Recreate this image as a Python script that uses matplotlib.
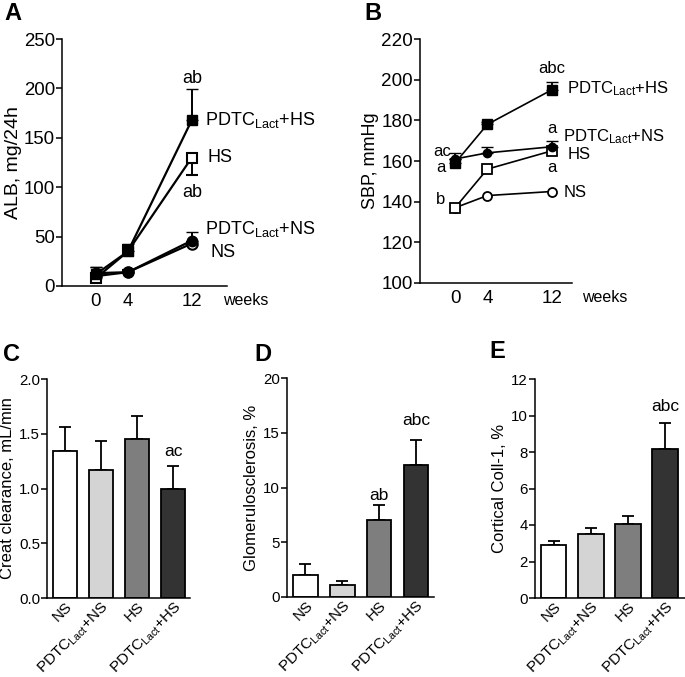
import matplotlib
matplotlib.use("Agg")
import matplotlib.pyplot as plt

plt.rcParams["font.family"] = ["Liberation Sans", "DejaVu Sans"]
plt.rcParams["mathtext.fontset"] = "custom"
plt.rcParams["mathtext.rm"] = "Liberation Sans"
plt.rcParams["mathtext.it"] = "Liberation Sans:italic"
plt.rcParams["axes.linewidth"] = 1.1

W, H = 685, 677
LACT_HS = r"PDTC$_{\mathregular{Lact}}$+HS"
LACT_NS = r"PDTC$_{\mathregular{Lact}}$+NS"

# time course data
weeks = [0, 4, 12]

alb_pdtc_hs = [12, 35, 168]
alb_pdtc_hs_err = [7, 8, 31]
alb_hs = [8, 35, 130]
alb_hs_err_lo = [0, 0, 18]
alb_hs_err_up = [2, 7, 0]
alb_pdtc_ns = [13, 14, 46]
alb_pdtc_ns_err = [6, 2, 9]
alb_ns = [10, 14, 43]
alb_ns_err = [2, 2, 2]

sbp_pdtc_hs = [159, 178, 195]
sbp_pdtc_hs_err = [2, 1, 4]
sbp_pdtc_ns = [161, 164, 167]
sbp_pdtc_ns_err = [3, 3, 3]
sbp_hs = [137, 156, 165]
sbp_ns = [137, 143, 145]

# bar data
groups = ["NS", LACT_NS, "HS", LACT_HS]
bar_colors = ["white", "#d4d4d4", "#7e7e7e", "#333333"]

creat = [1.34, 1.17, 1.45, 1.00]
creat_err = [0.22, 0.26, 0.21, 0.21]
glom = [2.0, 1.1, 7.0, 12.1]
glom_err = [1.0, 0.4, 1.4, 2.2]
coll = [2.9, 3.5, 4.05, 8.15]
coll_err = [0.25, 0.33, 0.42, 1.45]


def add_ax(fig, x0, x1, y0, y1):
    # pixel box -> figure fraction
    return fig.add_axes([x0 / W, 1 - y1 / H, (x1 - x0) / W, (y1 - y0) / H])


def style(ax, size):
    ax.spines["top"].set_visible(False)
    ax.spines["right"].set_visible(False)
    ax.tick_params(direction="out", length=4, width=1.1, labelsize=size, pad=1)


fig = plt.figure(figsize=(W / 100, H / 100), dpi=100)

# ---- A ----
ax = add_ax(fig, 62, 227, 39, 286)
style(ax, 13.4)
lw, ms = 1.6, 7.5
ax.errorbar(weeks, alb_ns, yerr=[[0] * 3, alb_ns_err], color="black", lw=lw, marker="o",
            ms=ms, mfc="white", mec="black", mew=1.5, capsize=4, elinewidth=1.4)
ax.errorbar(weeks, alb_pdtc_ns, yerr=[[0] * 3, alb_pdtc_ns_err], color="black", lw=lw,
            marker="o", ms=ms, capsize=4, elinewidth=1.4)
ax.errorbar(weeks, alb_hs, yerr=[alb_hs_err_lo, alb_hs_err_up], color="black", lw=lw,
            marker="s", ms=ms, mfc="white", mec="black", mew=1.5, capsize=4, elinewidth=1.4)
ax.errorbar(weeks, alb_pdtc_hs, yerr=[[0] * 3, alb_pdtc_hs_err], color="black", lw=lw,
            marker="s", ms=ms, capsize=4, elinewidth=1.4)
ax.set_xlim(-4.25, 16.4)
ax.set_ylim(0, 250)
ax.set_xticks(weeks)
ax.set_yticks([0, 50, 100, 150, 200, 250])
ax.tick_params(axis="x", length=0, pad=5)
ax.set_ylabel("ALB, mg/24h", fontsize=14, labelpad=1)
kw = dict(fontsize=13, va="center", clip_on=False)
ax.text(13.6, 168, LACT_HS, **kw)
ax.text(14.0, 130, "HS", **kw)
ax.text(13.6, 58, LACT_NS, **kw)
ax.text(14.3, 34, "NS", **kw)
ax.text(12, 210, "ab", ha="center", **kw)
ax.text(12, 95, "ab", ha="center", **kw)
ax.text(15.9, -14.5, "weeks", fontsize=11.5, va="center", clip_on=False)

# ---- B ----
ax = add_ax(fig, 420, 572, 39, 283)
style(ax, 13.6)
lw, ms = 1.2, 6.5
kw = dict(fontsize=12, va="center", clip_on=False)
ax.plot(weeks, sbp_ns, color="black", lw=lw, marker="o", ms=ms, mfc="white", mew=1.3)
ax.plot(weeks, sbp_hs, color="black", lw=lw, marker="s", ms=ms, mfc="white", mew=1.3)
ax.errorbar(weeks, sbp_pdtc_ns, yerr=[[0] * 3, sbp_pdtc_ns_err], color="black", lw=lw,
            marker="o", ms=ms - 0.5, capsize=4, elinewidth=1.3)
ax.errorbar(weeks, sbp_pdtc_hs, yerr=[[0] * 3, sbp_pdtc_hs_err], color="black", lw=lw,
            marker="s", ms=ms, capsize=4, elinewidth=1.3)
ax.set_xlim(-4.35, 14.5)
ax.set_ylim(100, 220)
ax.set_xticks(weeks)
ax.set_yticks([100, 120, 140, 160, 180, 200, 220])
ax.tick_params(axis="x", length=0, pad=5)
ax.set_ylabel("SBP, mmHg", fontsize=13, labelpad=2)
ax.text(13.9, 195.5, LACT_HS, **kw)
ax.text(13.4, 172, LACT_NS, **kw)
ax.text(13.9, 163, "HS", **kw)
ax.text(13.4, 144.5, "NS", **kw)
ax.text(12, 205.5, "abc", ha="center", **kw)
ax.text(12, 176, "a", ha="center", **kw)
ax.text(12, 157, "a", ha="center", **kw)
ax.text(-0.5, 164.5, "ac", ha="right", **kw)
ax.text(-1.2, 157, "a", ha="right", **kw)
ax.text(-1.2, 141, "b", ha="right", **kw)
ax.text(15.75, 93, "weeks", fontsize=11.5, va="center", clip_on=False)


# ---- bars ----
def bar_panel(box, vals, errs, ylim, yticks, ylabel, xlim, width, notes, fmt):
    ax = add_ax(fig, *box)
    style(ax, 10.8)
    x = range(len(vals))
    ax.bar(x, vals, width=width, color=bar_colors, edgecolor="black", linewidth=1.3, zorder=2)
    ax.errorbar(x, vals, yerr=[[0] * len(vals), errs], fmt="none", ecolor="black",
                elinewidth=1.3, capsize=4.5, capthick=1.3, zorder=1)
    ax.set_xlim(*xlim)
    ax.set_ylim(*ylim)
    ax.set_yticks(yticks)
    ax.set_yticklabels([fmt.format(t) for t in yticks])
    ax.set_xticks(list(x))
    ax.set_xticklabels(groups, rotation=45, ha="right", rotation_mode="anchor", fontsize=11)
    ax.tick_params(axis="x", length=0, pad=1)
    ax.set_ylabel(ylabel, fontsize=12, labelpad=3)
    for i, y, s in notes:
        ax.text(i, y, s, ha="center", va="center", fontsize=12.5)
    return ax


bar_panel((47, 190, 379, 598), creat, creat_err, (0, 2.0), [0, 0.5, 1.0, 1.5, 2.0],
          "Creat clearance, mL/min", (-0.5, 3.47), 0.67, [(3, 1.34, "ac")], "{:.1f}")
bar_panel((287, 434, 378, 597), glom, glom_err, (0, 20), [0, 5, 10, 15, 20],
          "Glomerulosclerosis, %", (-0.5, 3.49), 0.67,
          [(2, 9.3, "ab"), (3, 16.1, "abc")], "{:d}")
bar_panel((535, 685, 379, 598), coll, coll_err, (0, 12), [0, 2, 4, 6, 8, 10, 12],
          "Cortical Coll-1, %", (-0.5, 3.53), 0.69, [(3, 10.47, "abc")], "{:d}")

# panel letters
for s, px, py in [("A", 4, 14), ("B", 364, 14), ("C", 3, 354), ("D", 254, 354), ("E", 489, 352)]:
    fig.text(px / W, 1 - py / H, s, fontsize=17, fontweight="bold", va="center")

fig.savefig("out.png", dpi=100)
